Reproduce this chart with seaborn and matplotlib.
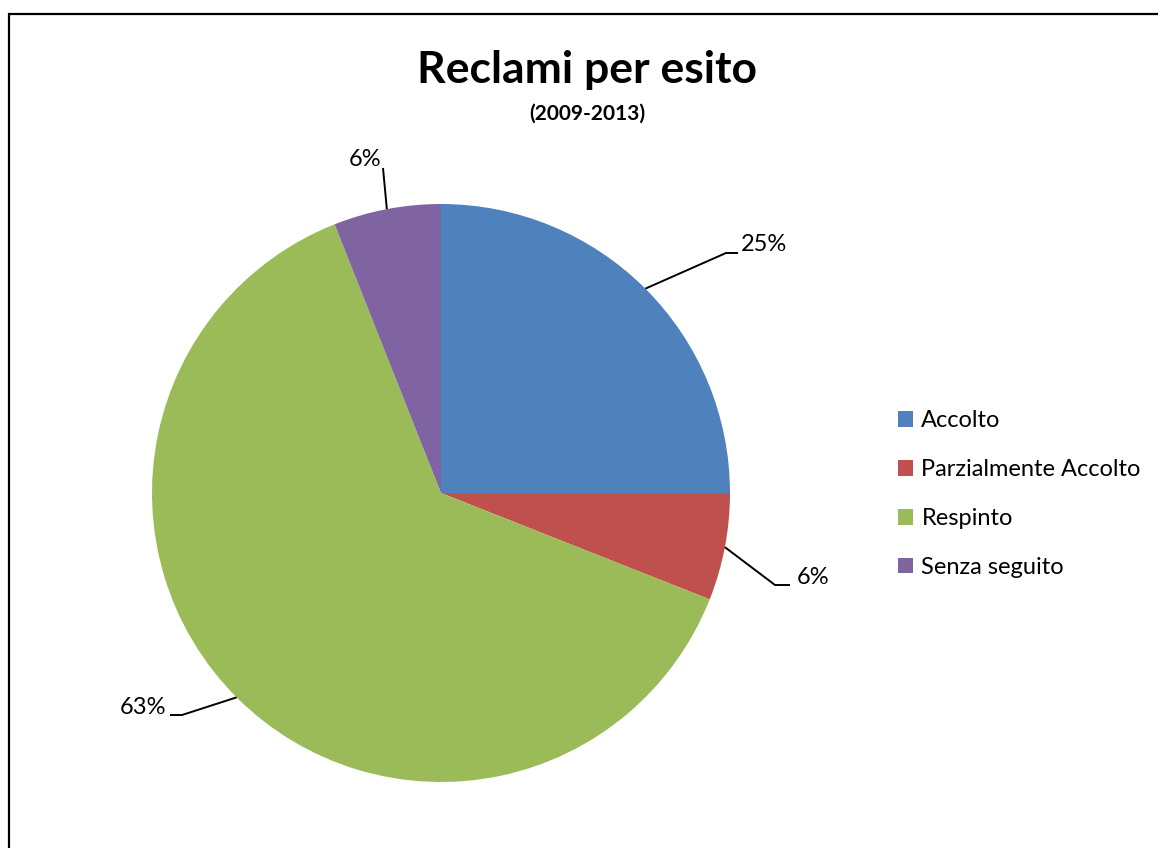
import matplotlib
matplotlib.use("Agg")
import matplotlib.pyplot as plt
import seaborn as sns
import numpy as np
from matplotlib.patches import Rectangle, Patch

# data
categories = ["Accolto", "Parzialmente Accolto", "Respinto", "Senza seguito"]
shares = [25, 6, 63, 6]
pct_labels = ["25%", "6%", "63%", "6%"]
colors = ["#4F81BD", "#C0504D", "#9BBB59", "#8064A2"]

sns.set_style("white")
plt.rcParams["font.family"] = ["Lato", "DejaVu Sans"]
plt.rcParams["text.color"] = "black"

W, H = 1158, 848
CX, CY, R = 441, 493, 289

fig = plt.figure(figsize=(W / 100, H / 100), dpi=100)
ax = fig.add_axes([0, 0, 1, 1])

wedges, _ = ax.pie(shares, colors=colors, startangle=90, counterclock=False,
                   radius=1, wedgeprops=dict(linewidth=0))

# place the pie: limits chosen so 1 data unit = R pixels
ax.set_xlim(-CX / R, (W - CX) / R)
ax.set_ylim(-(H - CY) / R, CY / R)
ax.set_aspect("equal")
ax.axis("off")


def px(x, y):
    return (x - CX) / R, (CY - y) / R


# leader layout (pixels): elbow start, elbow end, text anchor, alignment
layout = [
    ((726, 253), (738, 253), (741, 245), "left"),
    ((775, 585), (790, 585), (797, 578), "left"),
    ((182, 715), (170, 715), (166, 707), "right"),
    ((383, 168), (383, 168), (381, 160), "right"),
]

for w, lab, (e1, e2, tpos, ha) in zip(wedges, pct_labels, layout):
    mid = np.deg2rad((w.theta1 + w.theta2) / 2)
    ax0, ay0 = np.cos(mid), np.sin(mid)
    p1 = px(*e1)
    p2 = px(*e2)
    ax.plot([ax0, p1[0], p2[0]], [ay0, p1[1], p2[1]], color="black", lw=1.4,
            solid_capstyle="butt")
    tx, ty = px(*tpos)
    ax.text(tx, ty, lab, ha=ha, va="center", fontsize=17, color="black")

handles = [Patch(facecolor=c, edgecolor="none") for c in colors]
ax.legend(handles, categories, loc="center left",
          bbox_to_anchor=(886 / W, 1 - 494 / H), bbox_transform=fig.transFigure,
          frameon=False, fontsize=17, handlelength=0.65, handleheight=0.65,
          handletextpad=0.35, labelspacing=1.18, borderpad=0,
          labelcolor="black")

fig.text(587 / W, 1 - 70 / H, "Reclami per esito", ha="center", va="center",
         fontsize=32, fontweight="bold", color="black")
fig.text(587 / W, 1 - 114 / H, "(2009-2013)", ha="center", va="center",
         fontsize=15, fontweight="bold", color="black")

fig.patches.append(Rectangle((9 / W, -0.05), 1.2, 1 - 14 / H + 0.05,
                             transform=fig.transFigure, fill=False,
                             edgecolor="black", linewidth=1.6))

fig.savefig("out.png", dpi=100, facecolor="white")
